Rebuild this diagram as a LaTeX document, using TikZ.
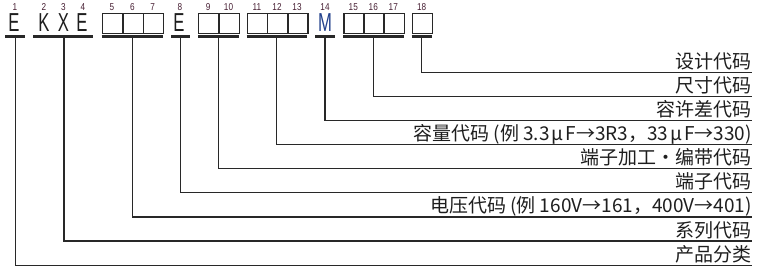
\documentclass[tikz,border=0pt]{standalone}
\usepackage{fontspec}
\usepackage{graphicx}
\newfontfamily\cjk{Noto Sans CJK SC}
\newfontfamily\lat{Liberation Sans}
\definecolor{ln}{RGB}{40,40,40}
\definecolor{txt}{RGB}{30,30,30}
\definecolor{numc}{RGB}{70,30,50}
\definecolor{mblue}{RGB}{35,65,140}
\begin{document}
\begin{tikzpicture}[x=1pt,y=-1pt,
  conn/.style={draw=ln,line width=1.2pt},
  bar/.style={draw=ln,line width=2.6pt},
  cell/.style={draw=ln,line width=1.3pt,minimum width=20.3pt,minimum height=20.5pt,inner sep=0pt,anchor=north west},
  num/.style={font=\lat\fontsize{10}{10}\selectfont,text=numc,inner sep=0pt,anchor=base,text height=7pt,text depth=0pt},
  letter/.style={font=\lat\fontsize{26}{26}\selectfont,text=txt,inner sep=0pt,anchor=base,text height=18.5pt,text depth=0pt},
  lab/.style={font=\cjk\fontsize{19}{19}\selectfont,text=txt,inner sep=0pt,anchor=base east}]
\useasboundingbox (0,0) rectangle (759,275);
% letters
\node[letter] (l1) at (14,31.7) {\scalebox{0.64}[1]{E}};
\node[letter] (l2) at (44,31.7) {\scalebox{0.64}[1]{K}};
\node[letter] (l3) at (63.3,31.7) {\scalebox{0.64}[1]{X}};
\node[letter] (l4) at (82,31.7) {\scalebox{0.64}[1]{E}};
\node[letter] (l8) at (179,31.7) {\scalebox{0.64}[1]{E}};
\node[letter,text=mblue] (l14) at (325,31.7) {\scalebox{0.64}[1]{M}};
% boxes
\node[cell] (b5) at (102,12.7) {};
\node[cell] (b6) at (122.3,12.7) {};
\node[cell] (b7) at (142.6,12.7) {};
\node[cell] (b9) at (198,12.7) {};
\node[cell] (b10) at (218.2,12.7) {};
\node[cell] (b11) at (246.7,12.7) {};
\node[cell] (b12) at (267,12.7) {};
\node[cell] (b13) at (287,12.7) {};
\node[cell] (b15) at (343.3,12.7) {};
\node[cell] (b16) at (363.3,12.7) {};
\node[cell] (b17) at (383.3,12.7) {};
\node[cell] (b18) at (411.7,12.7) {};
% numbers
\foreach \n/\x in {1/15,2/44,3/63.3,4/83,5/112,6/132.4,7/152.7,8/180,9/208.2,10/228.5,11/257,12/277,13/297,14/325,15/353.3,16/373.3,17/393.3,18/421.7}
  \node[num] (n\n) at (\x,10.5) {\scalebox{0.82}[1]{\n}};
% bars
\draw[bar] (5,36.7) -- (24.5,36.7);
\draw[bar] (33,36.7) -- (93,36.7);
\draw[bar] (101.7,36.7) -- (163.3,36.7);
\draw[bar] (171,36.7) -- (190,36.7);
\draw[bar] (198,36.7) -- (238.5,36.7);
\draw[bar] (246.7,36.7) -- (307,36.7);
\draw[bar] (315,36.7) -- (335,36.7);
\draw[bar] (343.3,36.7) -- (403.6,36.7);
\draw[bar] (411.7,36.7) -- (432,36.7);
% bar centres
\coordinate (c1) at (15.3,37);
\coordinate (c2) at (64,37);
\coordinate (c5) at (132.3,37);
\coordinate (c8) at (180.3,37);
\coordinate (c9) at (218.2,37);
\coordinate (c11) at (276.8,37);
\coordinate (c14) at (325,37);
\coordinate (c15) at (373.3,37);
\coordinate (c18) at (421.8,37);
% line ends
\foreach \k/\nm in {0/e18,1/e15,2/e14,3/e11,4/e9,5/e8,6/e5,7/e2,8/e1}
  \coordinate (\nm) at (752,72.3+24.1*\k);
% labels
\node[lab] (t18) at ([yshift=4pt]e18) {设计代码};
\node[lab] (t15) at ([yshift=4pt]e15) {尺寸代码};
\node[lab] (t14) at ([yshift=4pt]e14) {容许差代码};
\node[lab] (t11) at ([yshift=4pt]e11) {容量代码 (例 3.3\kern2pt μ\kern2pt F→3R3，33\kern2pt μ\kern2pt F→330)};
\node[lab] (t9) at ([yshift=4pt]e9) {端子加工・编带代码};
\node[lab] (t8) at ([yshift=4pt]e8) {端子代码};
\node[lab] (t5) at ([yshift=4pt]e5) {电压代码 (例 160V→161，400V→401)};
\node[lab] (t2) at ([yshift=4pt]e2) {系列代码};
\node[lab] (t1) at ([yshift=4pt]e1) {产品分类};
% connectors
\foreach \s in {1,2,5,8,9,11,14,15,18}
  \draw[conn] (c\s) |- (e\s);
\end{tikzpicture}
\end{document}
